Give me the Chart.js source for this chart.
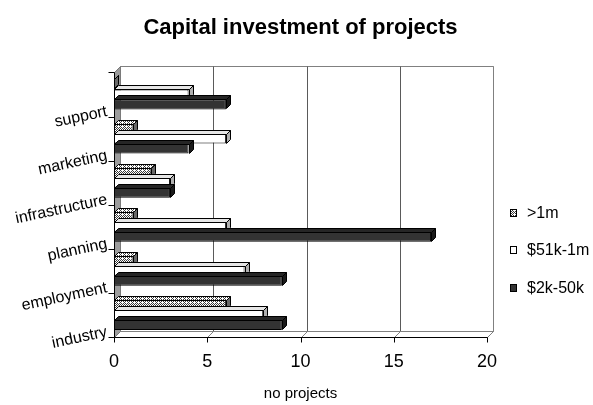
<!DOCTYPE html>
<html>
<head>
<meta charset="utf-8">
<script src="https://cdn.jsdelivr.net/npm/chart.js@4/dist/chart.umd.min.js"></script>
<style>
  html, body { margin: 0; padding: 0; background: #fff; }
  #wrap { width: 593px; height: 405px; }
</style>
</head>
<body>
<div id="wrap"><canvas id="c" width="593" height="405"></canvas></div>
<script>
// Categories, bottom to top
const categories = ['industry', 'employment', 'planning', 'infrastructure', 'marketing', 'support'];
const seriesNames = ['>1m', '$51k-1m', '$2k-50k'];
// Number of projects per investment band
const over1m   = [6, 1, 1, 2, 1, 0];
const mid51k1m = [8, 7, 6, 3, 6, 4];
const small2k  = [9, 9, 17, 3, 4, 6];
const xTicks = [0, 5, 10, 15, 20];

const FONT = '"Liberation Sans", Arial, sans-serif';
Chart.defaults.font.family = FONT;
Chart.defaults.color = '#000';

// Small dotted fill used for the >1m band
function makeHatch() {
  const t = document.createElement('canvas');
  t.width = 4; t.height = 4;
  const g = t.getContext('2d');
  g.fillStyle = '#fff';
  g.fillRect(0, 0, 4, 4);
  g.fillStyle = '#3a3a3a';
  for (let y = 0; y < 4; y++) for (let x = 0; x < 4; x++) {
    if ((x + y) % 2 === 0 && !(x === 2 && y === 2)) g.fillRect(x, y, 1, 1);
  }
  return g.createPattern(t, 'repeat');
}
const ctx = document.getElementById('c').getContext('2d');
const hatch = makeHatch();

const WALL = 6;   // depth of the 3D frame
const BAR = 4;    // depth of each bar

// Face fills per series (same order as seriesNames)
const faceStyles = [
  { front: hatch, top: hatch, side: '#6a6a6a' },
  { front: '#ffffff', top: '#e6e6e6', side: '#b0b0b0' },
  { front: '#333333', top: '#262626', side: '#1a1a1a' }
];

function poly(c, pts, fill, stroke) {
  c.beginPath();
  c.moveTo(pts[0][0], pts[0][1]);
  for (let i = 1; i < pts.length; i++) c.lineTo(pts[i][0], pts[i][1]);
  c.closePath();
  if (fill) { c.fillStyle = fill; c.fill(); }
  if (stroke) { c.strokeStyle = stroke; c.lineWidth = 1; c.stroke(); }
}

// Walls, floor, gridlines and axis lines of the 3D plot box
const frame3d = {
  id: 'frame3d',
  beforeDatasetsDraw(chart) {
    const c = chart.ctx, a = chart.chartArea, xs = chart.scales.x;
    const L = Math.round(a.left) + 0.5, R = Math.round(a.right) + 0.5;
    const T = Math.round(a.top) + 0.5, B = Math.round(a.bottom) + 0.5;
    const d = WALL;
    c.save();
    // back wall
    poly(c, [[L + d, T - d], [R + d, T - d], [R + d, B - d], [L + d, B - d]], '#ffffff', '#808080');
    // gridlines on the back wall
    xTicks.forEach(v => {
      const px = Math.round(xs.getPixelForValue(v)) + 0.5;
      c.strokeStyle = (v === xTicks[0] || v === xTicks[xTicks.length - 1]) ? '#808080' : '#5a5a5a';
      c.beginPath();
      c.moveTo(px + d, T - d); c.lineTo(px + d, B - d);
      c.stroke();
    });
    // floor
    poly(c, [[L, B], [R, B], [R + d, B - d], [L + d, B - d]], '#ffffff', '#808080');
    xTicks.forEach(v => {
      const px = Math.round(xs.getPixelForValue(v)) + 0.5;
      c.strokeStyle = '#808080';
      c.beginPath(); c.moveTo(px, B); c.lineTo(px + d, B - d); c.stroke();
    });
    // left wall
    poly(c, [[L, T], [L + d, T - d], [L + d, B - d], [L, B]], '#9c9c9c', '#7a7a7a');
    // axis lines and tick marks
    c.strokeStyle = '#000';
    c.beginPath();
    c.moveTo(L, T); c.lineTo(L, B); c.lineTo(R, B);
    c.stroke();
    xTicks.forEach(v => {
      const px = Math.round(xs.getPixelForValue(v)) + 0.5;
      c.beginPath(); c.moveTo(px, B); c.lineTo(px, B + 5); c.stroke();
    });
    const n = categories.length;
    for (let i = 0; i <= n; i++) {
      const y = Math.round(a.top + i * (a.bottom - a.top) / n) + 0.5;
      c.beginPath(); c.moveTo(L - 6, y); c.lineTo(L, y); c.stroke();
    }
    c.restore();
  }
};

// Top and side faces of each bar
const bars3d = {
  id: 'bars3d',
  afterDatasetsDraw(chart) {
    const c = chart.ctx, d = BAR;
    c.save();
    chart.data.datasets.forEach((ds, di) => {
      const meta = chart.getDatasetMeta(di);
      const st = faceStyles[di];
      meta.data.forEach(el => {
        const p = el.getProps(['x', 'y', 'base', 'height'], true);
        const left = Math.round(Math.min(p.x, p.base)) + 0.5;
        const right = Math.round(Math.max(p.x, p.base)) + 0.5;
        const top = Math.round(p.y - p.height / 2) + 0.5;
        const bot = Math.round(p.y + p.height / 2) - 0.5;
        poly(c, [[left, top], [left + d, top - d], [right + d, top - d], [right, top]], st.top, '#000');
        poly(c, [[right, top], [right + d, top - d], [right + d, bot - d], [right, bot]], st.side, '#000');
      });
    });
    c.restore();
  }
};

// Slanted category labels on the left
const catLabels = {
  id: 'catLabels',
  afterDraw(chart) {
    const c = chart.ctx, ys = chart.scales.y;
    c.save();
    c.font = '16px ' + FONT;
    c.fillStyle = '#000';
    c.textAlign = 'right';
    c.textBaseline = 'middle';
    categories.forEach((name, i) => {
      const y = ys.getPixelForValue(i) + 17;
      c.save();
      c.translate(107, y);
      c.rotate(-12 * Math.PI / 180);
      c.fillText(name, 0, 0);
      c.restore();
    });
    c.restore();
  }
};

// Legend on the right
const sideLegend = {
  id: 'sideLegend',
  afterDraw(chart) {
    const c = chart.ctx;
    const rows = [213, 250, 288];
    c.save();
    c.font = '16px ' + FONT;
    c.textAlign = 'left';
    c.textBaseline = 'middle';
    seriesNames.forEach((name, i) => {
      const y = rows[i];
      c.fillStyle = faceStyles[i].front;
      c.fillRect(510, y - 4, 7, 8);
      c.strokeStyle = '#000';
      c.lineWidth = 1;
      c.strokeRect(510.5, y - 3.5, 6, 7);
      c.fillStyle = '#000';
      c.fillText(name, 527, y + 1);
    });
    c.restore();
  }
};

const seriesData = [over1m, mid51k1m, small2k];

new Chart(ctx, {
  type: 'bar',
  data: {
    labels: categories,
    datasets: seriesNames.map((name, i) => ({
      label: name,
      data: seriesData[i],
      backgroundColor: faceStyles[i].front,
      borderColor: '#000',
      borderWidth: 1,
      borderSkipped: false,
      categoryPercentage: 0.68,
      barPercentage: 1.0
    }))
  },
  options: {
    indexAxis: 'y',
    responsive: false,
    animation: false,
    events: [],
    layout: { padding: { left: 114, right: 106, top: 0, bottom: 0 } },
    plugins: {
      legend: { display: false },
      tooltip: { enabled: false },
      title: {
        display: true,
        text: 'Capital investment of projects',
        color: '#000',
        font: { family: FONT, size: 22, weight: 'bold' },
        padding: { top: 15, bottom: 31 }
      }
    },
    scales: {
      x: {
        min: 0, max: 20,
        afterBuildTicks(s) { s.ticks = xTicks.map(v => ({ value: v })); },
        ticks: { color: '#000', font: { family: FONT, size: 18 }, padding: 14, maxRotation: 0 },
        grid: { display: false, drawTicks: false },
        border: { display: false },
        title: {
          display: true, text: 'no projects', color: '#000',
          font: { family: FONT, size: 15 }, padding: { top: 10, bottom: 2 }
        },
        afterFit(s) { s.height = 68; }
      },
      y: { type: 'category', reverse: true, display: false }
    }
  },
  plugins: [frame3d, bars3d, catLabels, sideLegend]
});
</script>
</body>
</html>
